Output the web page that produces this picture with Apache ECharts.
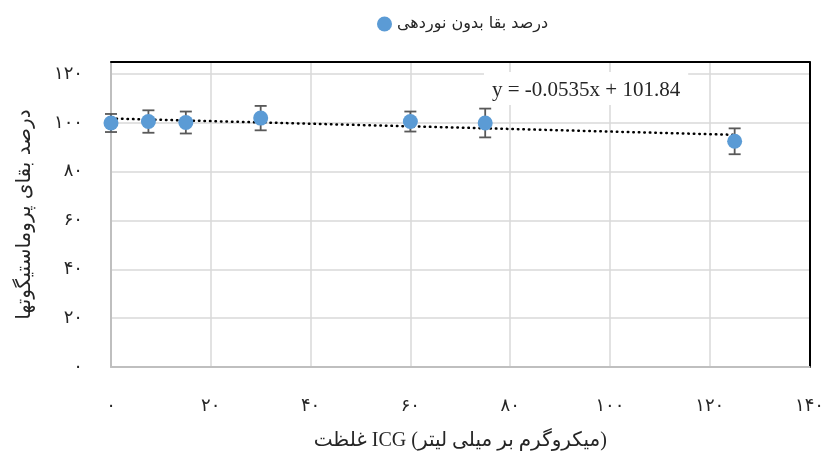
<!DOCTYPE html>
<html>
<head>
<meta charset="utf-8">
<script src="https://cdn.jsdelivr.net/npm/echarts@6/dist/echarts.min.js"></script>
<style>html,body{margin:0;padding:0;background:#fff;}#c{width:827px;height:466px;}</style>
</head>
<body>
<div id="c"></div>
<script>
// Data
var concentrations = [0, 7.5, 15, 30, 60, 75, 125];
var survival = [100.0, 100.6, 100.2, 102.0, 100.6, 100.0, 92.5];
var errors = [3.7, 4.6, 4.5, 5.0, 4.1, 5.9, 5.3];
var trendSlope = -0.0535;
var trendIntercept = 101.84;
var trendRange = [0, 125];
var seriesName = 'درصد بقا بدون نوردهی';
var xAxisTitle = 'غلظت ICG (میکروگرم بر میلی لیتر)';
var yAxisTitle = 'درصد بقای پروماستیگوتها';
var equationText = 'y = -0.0535x + 101.84';
var persianDigits = ['۰','۱','۲','۳','۴','۵','۶','۷','۸','۹'];

function toPersian(v) {
  return String(v).replace(/[0-9]/g, function (d) { return persianDigits[+d]; });
}

var points = concentrations.map(function (x, i) { return [x, survival[i]]; });
var errData = concentrations.map(function (x, i) { return [x, survival[i] - errors[i], survival[i] + errors[i]]; });
var trendData = trendRange.map(function (x) { return [x, trendSlope * x + trendIntercept]; });

var chart = echarts.init(document.getElementById('c'), null, {renderer: 'canvas'});
var labelFont = 'DejaVu Sans, sans-serif';
chart.setOption({
  animation: false,
  backgroundColor: '#fff',
  legend: {
    data: [{name: seriesName, icon: 'circle'}],
    top: 11,
    left: 372,
    itemWidth: 15,
    itemHeight: 15,
    itemGap: 6,
    textStyle: {fontSize: 16, color: '#262626', fontFamily: labelFont}
  },
  grid: {left: 111, right: 16, top: 62, bottom: 99, containLabel: false},
  xAxis: [{
    type: 'value', min: 0, max: 140, interval: 20,
    name: xAxisTitle, nameLocation: 'middle', nameGap: 64,
    nameTextStyle: {fontSize: 20, color: '#262626', fontFamily: 'Liberation Serif, DejaVu Sans, serif'},
    axisLine: {show: true, lineStyle: {color: '#BFBFBF', width: 2}},
    axisTick: {show: false},
    axisLabel: {margin: 30, fontSize: 18, color: '#262626', fontFamily: labelFont,
      formatter: function (v) { return toPersian(v); }},
    splitLine: {show: true, lineStyle: {color: '#D9D9D9', width: 1.5}}
  }, {
    type: 'value', position: 'top', min: 0, max: 140,
    axisLine: {show: true, onZero: false, lineStyle: {color: '#000', width: 2}},
    axisTick: {show: false}, axisLabel: {show: false}, splitLine: {show: false}
  }],
  yAxis: [{
    type: 'value', min: 0, max: 125, interval: 20,
    name: yAxisTitle, nameLocation: 'middle', nameGap: 76, nameRotate: 90,
    nameTextStyle: {fontSize: 20, color: '#262626', fontFamily: labelFont},
    axisLine: {show: true, lineStyle: {color: '#BFBFBF', width: 2}},
    axisTick: {show: false},
    axisLabel: {margin: 28, fontSize: 18, color: '#262626', fontFamily: labelFont, showMaxLabel: false,
      formatter: function (v) { return v > 120 ? '' : toPersian(v); }},
    splitLine: {show: true, lineStyle: {color: '#D9D9D9', width: 1.5}}
  }, {
    type: 'value', position: 'right', min: 0, max: 125,
    axisLine: {show: true, onZero: false, lineStyle: {color: '#000', width: 2}},
    axisTick: {show: false}, axisLabel: {show: false}, splitLine: {show: false}
  }],
  series: [{
    name: 'trend', type: 'line', data: trendData, showSymbol: false, symbol: 'none',
    lineStyle: {color: '#000', width: 2.5, type: [0.5, 5], cap: 'round'}, z: 3, silent: true
  }, {
    name: 'err', type: 'custom', data: errData, z: 4,
    renderItem: function (params, api) {
      var x = api.value(0);
      var lo = api.coord([x, api.value(1)]);
      var hi = api.coord([x, api.value(2)]);
      var hw = 6;
      var st = {stroke: '#595959', lineWidth: 1.8};
      return {type: 'group', children: [
        {type: 'line', shape: {x1: lo[0], y1: lo[1], x2: hi[0], y2: hi[1]}, style: st},
        {type: 'line', shape: {x1: lo[0] - hw, y1: lo[1], x2: lo[0] + hw, y2: lo[1]}, style: st},
        {type: 'line', shape: {x1: hi[0] - hw, y1: hi[1], x2: hi[0] + hw, y2: hi[1]}, style: st}
      ]};
    }
  }, {
    name: seriesName, type: 'scatter', data: points, symbol: 'circle', symbolSize: 15, z: 5,
    itemStyle: {color: '#5B9BD5', opacity: 1}
  }],
  graphic: [{
    type: 'text', left: 484, top: 72, z: 2,
    style: {text: equationText, fontSize: 21, fill: '#262626', fontFamily: 'Liberation Serif, serif',
      backgroundColor: '#fff', padding: [8, 8, 4, 8]}
  }]
});
</script>
</body>
</html>
